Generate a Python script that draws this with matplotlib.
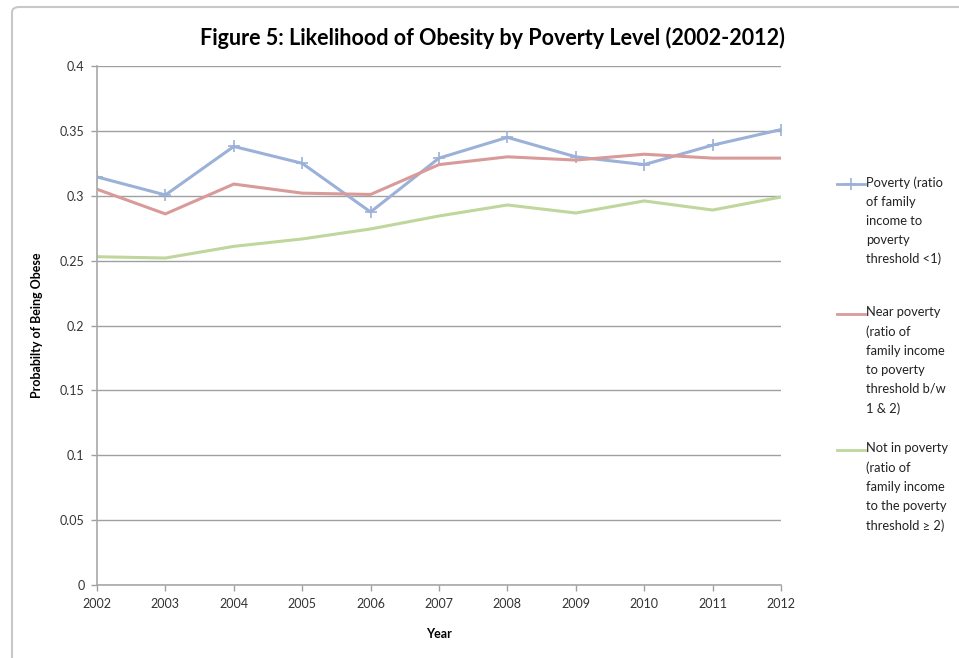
import matplotlib
matplotlib.use("Agg")
import matplotlib.pyplot as plt
from matplotlib.patches import FancyBboxPatch
from matplotlib.lines import Line2D

plt.rcParams['font.family'] = ['Lato', 'DejaVu Sans']

years = [2002, 2003, 2004, 2005, 2006, 2007, 2008, 2009, 2010, 2011, 2012]
poverty = [0.3145, 0.3006, 0.338, 0.325, 0.2875, 0.329, 0.345, 0.330, 0.324, 0.339, 0.351]
near_poverty = [0.305, 0.286, 0.309, 0.302, 0.301, 0.324, 0.330, 0.3275, 0.332, 0.329, 0.329]
not_poverty = [0.253, 0.252, 0.261, 0.2667, 0.2744, 0.2844, 0.2929, 0.2867, 0.296, 0.289, 0.299]

labels = [
    "Poverty (ratio\nof family\nincome to\npoverty\nthreshold <1)",
    "Near poverty\n(ratio of\nfamily income\nto poverty\nthreshold b/w\n1 & 2)",
    "Not in poverty\n(ratio of\nfamily income\nto the poverty\nthreshold \u2265 2)",
]
colors = ["#9bb1d8", "#d99a9a", "#bfd79c"]
y_ticks = [0, 0.05, 0.1, 0.15, 0.2, 0.25, 0.3, 0.35, 0.4]

fig = plt.figure(figsize=(9.59, 6.58), dpi=100)

# chart-area frame (rounded corner, runs off the right and bottom)
frame = FancyBboxPatch((12 / 959, -0.05), 1.2, 0.05 + (658 - 7) / 658,
                       boxstyle="round,pad=0,rounding_size=0.008",
                       transform=fig.transFigure, fill=False,
                       edgecolor="#c8c8c8", linewidth=1.5, zorder=0)
fig.patches.append(frame)

ax = fig.add_axes([97 / 959, 73 / 658, 684 / 959, 519 / 658])

ax.plot(years, poverty, color=colors[0], lw=2.2, marker="+", ms=8, mew=1.2)
ax.plot(years, near_poverty, color=colors[1], lw=2.2)
ax.plot(years, not_poverty, color=colors[2], lw=2.2)

ax.set_xlim(2002, 2012)
ax.set_ylim(0, 0.4)
ax.set_xticks(years)
ax.set_yticks(y_ticks)
ax.set_yticklabels(["0", "0.05", "0.1", "0.15", "0.2", "0.25", "0.3", "0.35", "0.4"])
ax.tick_params(labelsize=9, colors="#a0a0a0", labelcolor="#333333", length=4, width=1, pad=5)
ax.grid(axis="y", color="#a0a0a0", lw=1)
ax.set_axisbelow(True)
for s in ["top", "right"]:
    ax.spines[s].set_visible(False)
for s in ["left", "bottom"]:
    ax.spines[s].set_color("#a8a8a8")
    ax.spines[s].set_linewidth(1.2)

ax.set_xlabel("Year", fontsize=9, fontweight="bold", labelpad=13)
ax.set_ylabel("Probabilty of Being Obese", fontsize=9, fontweight="bold", labelpad=12)
fig.suptitle("Figure 5: Likelihood of Obesity by Poverty Level (2002-2012)",
             x=492 / 959, y=1 - 38 / 658, va="center", fontsize=15.5, fontweight="bold")

# legend on the right, handle level with the first text line
legend_tops = [184, 314, 450]
for lab, col, ypx, mk in zip(labels, colors, legend_tops, ["+", None, None]):
    yf = 1 - ypx / 658
    fig.add_artist(Line2D([837 / 959, 865 / 959], [yf, yf], transform=fig.transFigure,
                          color=col, lw=2))
    if mk:
        fig.add_artist(Line2D([851 / 959], [yf], transform=fig.transFigure,
                              color=col, marker=mk, ms=8, mew=1.2))
    fig.text(866 / 959, yf + 8 / 658, lab, fontsize=9.3, va="top", ha="left",
             linespacing=1.7, color="#222222")

fig.savefig("out.png", dpi=100)
